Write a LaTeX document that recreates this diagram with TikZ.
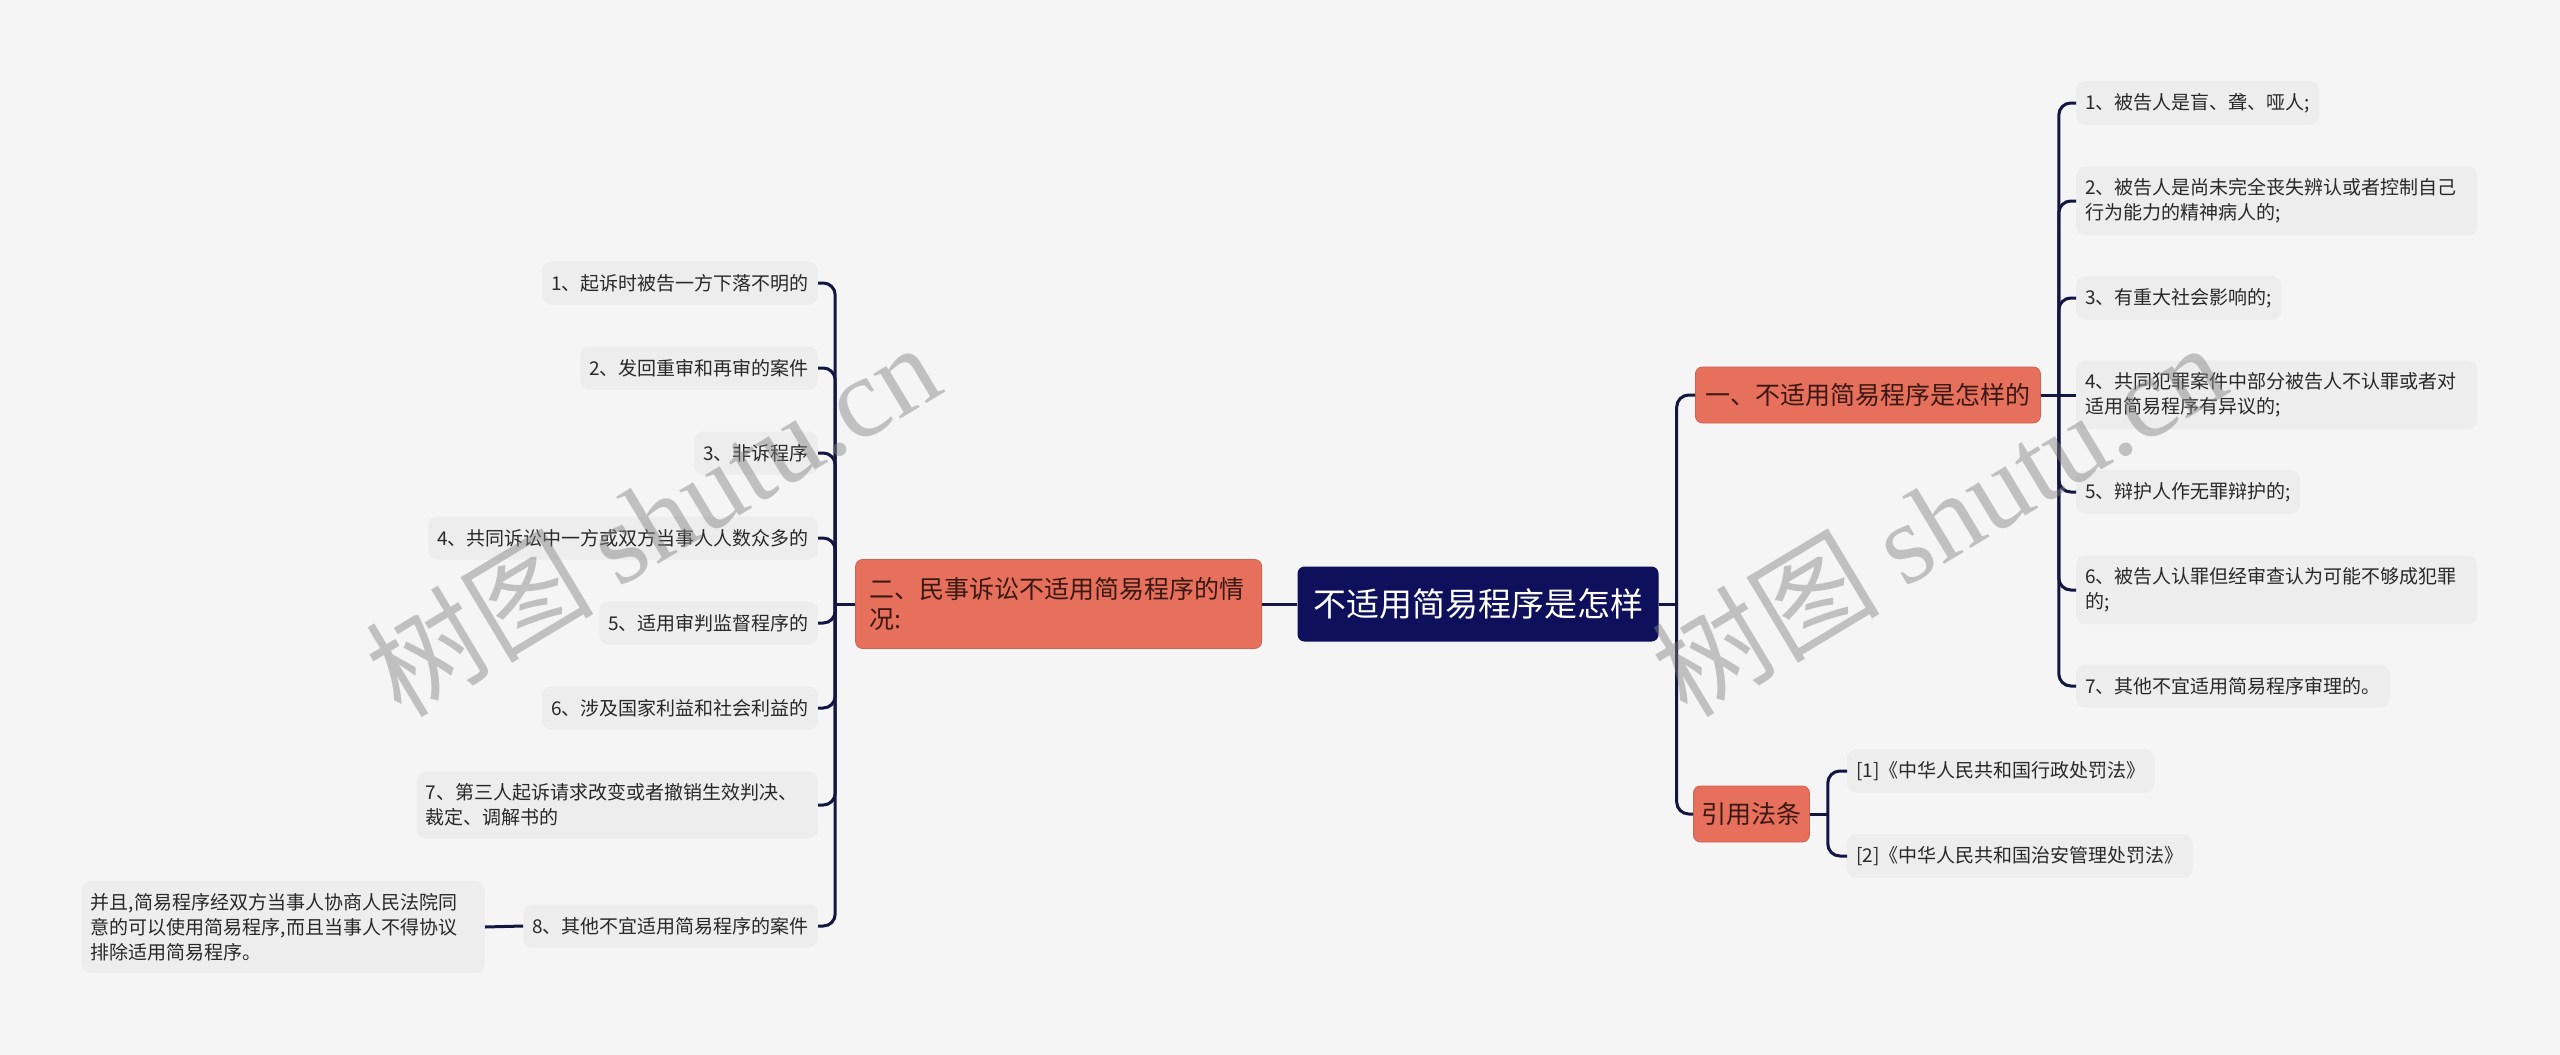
\documentclass[tikz,border=0pt]{standalone}
\usepackage{fontspec}
\setmainfont{Noto Sans CJK SC}
\newfontfamily\wmfont{Liberation Serif}
\usepackage{tikz}
\usetikzlibrary{calc}
\definecolor{pagebg}{RGB}{245,245,245}
\definecolor{rootnavy}{RGB}{14,16,92}
\definecolor{branchred}{RGB}{231,112,92}
\definecolor{branchtext}{RGB}{58,24,20}
\definecolor{leafgray}{RGB}{237,237,237}
\definecolor{leaftext}{RGB}{40,40,40}
\definecolor{linkcol}{RGB}{20,22,66}

\begin{document}
\begin{tikzpicture}[x=1pt, y=-1pt,
  rootbox/.style={fill=rootnavy, text=white, rounded corners=7pt, font=\fontsize{33}{36}\selectfont, minimum width=361pt, minimum height=75pt, inner sep=0pt},
  branchbox/.style={fill=branchred, draw=branchred!88!black, line width=0.8pt, text=branchtext, rounded corners=7pt, font=\fontsize{25}{30}\selectfont, minimum height=56pt, inner xsep=10pt, align=left},
  leafbox/.style={fill=leafgray, text=leaftext, rounded corners=9pt, font=\fontsize{19}{25}\selectfont, minimum height=43pt, inner xsep=9pt, inner ysep=12pt, align=left},
  wideleaf/.style={leafbox, text width=383pt},
  link/.style={draw=linkcol, line width=3pt, rounded corners=12pt},
  watermark/.style={text=black!50, text opacity=0.45, font=\fontsize{114}{120}\selectfont, rotate=31}]
  \fill[pagebg] (0,0) rectangle (2560,1055);
  \useasboundingbox (0,0) rectangle (2560,1055);

  % centre and main branches
  \node[rootbox] (root) at (1478,604) {不适用简易程序是怎样};
  \node[branchbox, anchor=east, text width=378pt, inner xsep=14pt, minimum height=89pt] (civil) at (1262,604) {二、民事诉讼不适用简易程序的情\\况:};
  \node[branchbox, anchor=west] (crim) at (1695,395) {一、不适用简易程序是怎样的};
  \node[branchbox, anchor=west, inner xsep=8pt] (laws) at (1693,814) {引用法条};

  % right leaves
  \node[leafbox, anchor=west] (c1) at (2076,103) {1、被告人是盲、聋、哑人;};
  \node[wideleaf, anchor=west] (c2) at (2076,201) {2、被告人是尚未完全丧失辨认或者控制自己\\行为能力的精神病人的;};
  \node[leafbox, anchor=west] (c3) at (2076,298) {3、有重大社会影响的;};
  \node[wideleaf, anchor=west] (c4) at (2076,395) {4、共同犯罪案件中部分被告人不认罪或者对\\适用简易程序有异议的;};
  \node[leafbox, anchor=west] (c5) at (2076,492) {5、辩护人作无罪辩护的;};
  \node[wideleaf, anchor=west] (c6) at (2076,590) {6、被告人认罪但经审查认为可能不够成犯罪\\的;};
  \node[leafbox, anchor=west] (c7) at (2076,686) {7、其他不宜适用简易程序审理的。};
  \node[leafbox, anchor=west] (f1) at (1847,771) {[1]《中华人民共和国行政处罚法》};
  \node[leafbox, anchor=west] (f2) at (1847,856) {[2]《中华人民共和国治安管理处罚法》};

  % left leaves
  \node[leafbox, anchor=east] (m1) at (818,283) {1、起诉时被告一方下落不明的};
  \node[leafbox, anchor=east] (m2) at (818,368) {2、发回重审和再审的案件};
  \node[leafbox, anchor=east] (m3) at (818,453) {3、非诉程序};
  \node[leafbox, anchor=east] (m4) at (818,538) {4、共同诉讼中一方或双方当事人人数众多的};
  \node[leafbox, anchor=east] (m5) at (818,623) {5、适用审判监督程序的};
  \node[leafbox, anchor=east] (m6) at (818,708) {6、涉及国家利益和社会利益的};
  \node[wideleaf, anchor=east] (m7) at (818,805) {7、第三人起诉请求改变或者撤销生效判决、\\裁定、调解书的};
  \node[leafbox, anchor=east] (m8) at (818,926) {8、其他不宜适用简易程序的案件};
  \node[leafbox, anchor=east, text width=385pt] (note) at (485,927) {并且,简易程序经双方当事人协商人民法院同\\意的可以使用简易程序,而且当事人不得协议\\排除适用简易程序。};

  % connectors
  \coordinate (rootj) at ($(root.east)+(18,0)$);
  \coordinate (crimj) at ($(crim.east)+(18,0)$);
  \coordinate (lawsj) at ($(laws.east)+(18,0)$);
  \coordinate (civilj) at ($(civil.west)+(-20,0)$);
  \draw[link] (root.west) -- (civil.east);
  \draw[link] (root.east) -- (rootj);
  \draw[link] (rootj) |- (crim.west);
  \draw[link] (rootj) |- (laws.west);
  \draw[link] (crim.east) -- (crimj);
  \foreach \n in {c1,c2,c3,c5,c6,c7}
    \draw[link] (crimj) |- (\n.west);
  \draw[link] (crimj) -- (c4.west);
  \draw[link] (laws.east) -- (lawsj);
  \draw[link] (lawsj) |- (f1.west);
  \draw[link] (lawsj) |- (f2.west);
  \draw[link] (civil.west) -- (civilj);
  \foreach \n in {m1,m2,m3,m4,m5,m6,m7,m8}
    \draw[link] (civilj) |- (\n.east);
  \draw[link] (m8.west) -- (note.east);

  % watermarks
  \node[watermark] (wmleft) at (652,518) {树图 {\wmfont shutu.cn}};
  \node[watermark] (wmright) at (1938,518) {树图 {\wmfont shutu.cn}};
\end{tikzpicture}
\end{document}
